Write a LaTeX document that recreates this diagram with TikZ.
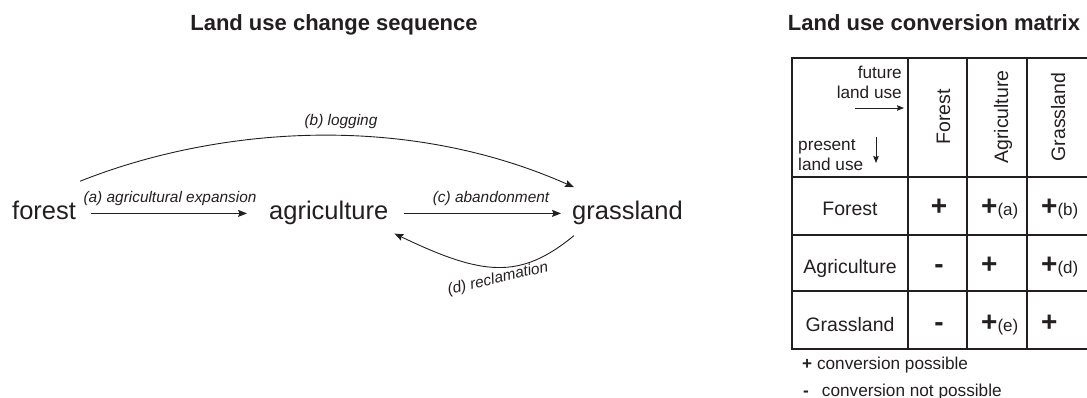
\documentclass[tikz,border=0pt]{standalone}
\usepackage{fontspec}
\setmainfont{Liberation Sans}
\usetikzlibrary{arrows.meta}
\definecolor{ink}{RGB}{35,31,32}
\newcommand\cnote[1]{{\normalfont\fontsize{17}{19}\selectfont(#1)}}

\begin{document}
\begin{tikzpicture}[x=1pt,y=-1pt,color=ink,>={Stealth[length=9pt,width=7pt,inset=1.5pt]},
  landuse/.style={font=\fontsize{25.5}{30}\selectfont,inner sep=0pt,text height=18.6pt,text depth=5.4pt},
  trans/.style={font=\itshape\fontsize{15.4}{18}\selectfont,inner sep=0pt},
  cellfont/.style={font=\fontsize{19.5}{23}\selectfont,inner sep=0pt},
  signfont/.style={font=\bfseries\fontsize{28}{30}\selectfont,inner sep=0pt},
  notefont/.style={font=\fontsize{17.2}{20}\selectfont,inner sep=0pt},
  titlefont/.style={font=\bfseries\fontsize{22}{26}\selectfont,inner sep=0pt}]
\useasboundingbox (0,0) rectangle (1087,398);

\node[titlefont,anchor=base] (tseq) at (334,31) {Land use change sequence};
\node[titlefont,anchor=base] (tmat) at (934,31) {Land use conversion matrix};

% change sequence
\node[landuse,anchor=base west] (forest) at (12,220) {forest};
\node[landuse,anchor=base west] (agri) at (269,220) {agriculture};
\node[landuse,anchor=base west] (grass) at (572,220) {grassland};
\draw[line width=.9pt][->] ([xshift=15pt,yshift=6.6pt]forest.base east) -- ([xshift=-22pt,yshift=6.6pt]agri.base west);
\draw[line width=.9pt][->] ([xshift=16pt,yshift=6.6pt]agri.base east) -- ([xshift=-11pt,yshift=6.6pt]grass.base west);
\draw[line width=.9pt][->] ([xshift=4pt,yshift=20pt]forest.north east) .. controls (211,129) and (400,110) .. ([xshift=2pt,yshift=14pt]grass.north west);
\draw[line width=.9pt][->] ([xshift=2pt,yshift=-10pt]grass.south west) .. controls (520,280) and (483,276) .. ([xshift=6pt,yshift=-8pt]agri.south east);
\node[trans,anchor=base] (la) at (170,203) {(a) agricultural expansion};
\node[trans,anchor=base] (lb) at (341,126) {(b) logging};
\node[trans,anchor=base] (lc) at (491,203) {(c) abandonment};
\node[trans,rotate=13] (ld) at (498,279) {(d) reclamation};

% conversion matrix
\draw[line width=1.1pt] (792,58) rectangle (1088,349);
\draw[line width=1.1pt] (792,177) -- (1088,177) (792,235) -- (1088,235) (792,291) -- (1088,291);
\draw[line width=1.1pt] (908,58) -- (908,349) (967,58) -- (967,349) (1027,58) -- (1027,349);

\node[notefont,align=right,anchor=east] (fut) at (902,82) {future\\land use};
\node[notefont,align=left,anchor=west] (pres) at (798,155) {present\\land use};
\coordinate (fut0) at (855,108);
\coordinate (fut1) at (904,108);
\coordinate (pres0) at (876,137);
\coordinate (pres1) at (876,163);
\draw[line width=.9pt][-{Stealth[length=7pt,width=5.5pt,inset=1pt]}] (fut0) -- (fut1);
\draw[line width=.9pt][-{Stealth[length=7pt,width=5.5pt,inset=1pt]}] (pres0) -- (pres1);

\node[cellfont,rotate=90,anchor=base] (hF) at (950,117) {Forest};
\node[cellfont,rotate=90,anchor=base] (hA) at (1008,117) {Agriculture};
\node[cellfont,rotate=90,anchor=base] (hG) at (1065,117) {Grassland};

\node[cellfont,anchor=base] (rF) at (850,215) {Forest};
\node[cellfont,anchor=base] (rA) at (850,273) {Agriculture};
\node[cellfont,anchor=base] (rG) at (850,331) {Grassland};

\node[signfont,anchor=base] (FF) at (939,215) {+};
\node[signfont,anchor=base west] (FA) at (981,215) {+\cnote{a}};
\node[signfont,anchor=base west] (FG) at (1041,215) {+\cnote{b}};
\node[signfont,anchor=base] (AF) at (939,273) {-};
\node[signfont,anchor=base west] (AA) at (981,273) {+};
\node[signfont,anchor=base west] (AG) at (1041,273) {+\cnote{d}};
\node[signfont,anchor=base] (GF) at (939,331) {-};
\node[signfont,anchor=base west] (GA) at (981,331) {+\cnote{e}};
\node[signfont,anchor=base west] (GG) at (1041,331) {+};

\node[notefont,anchor=base west] (key1) at (802,369) {{\bfseries+} conversion possible};
\node[notefont,anchor=base west] (key2) at (803,396) {{\bfseries-}\hspace{13pt}conversion not possible};
\end{tikzpicture}
\end{document}
